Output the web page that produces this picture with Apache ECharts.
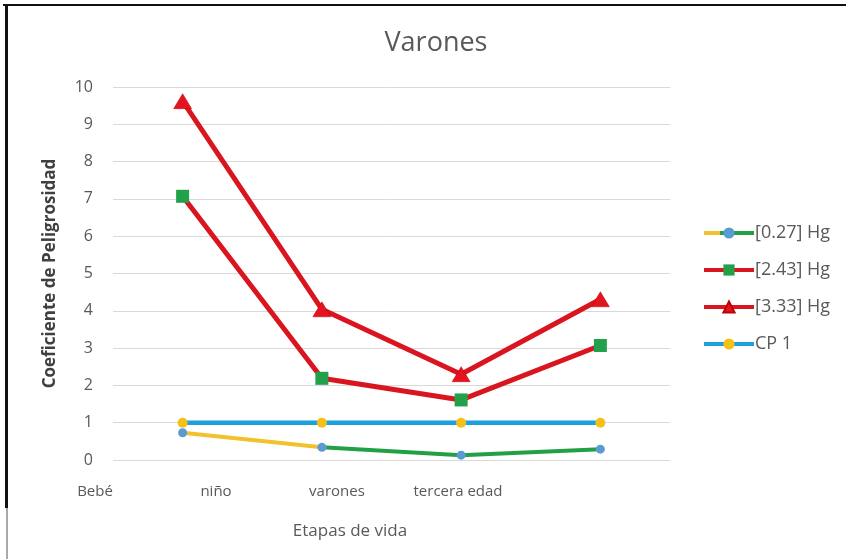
<!DOCTYPE html>
<html>
<head>
<meta charset="utf-8">
<title>Varones</title>
<script src="https://cdn.jsdelivr.net/npm/echarts@6/dist/echarts.min.js"></script>
<style>
  html, body { margin: 0; padding: 0; background: #ffffff; }
  #chart { width: 846px; height: 559px; }
</style>
</head>
<body>
<div id="chart"></div>
<script>
// Life stages along the horizontal axis
var etapas = ['Bebé', 'niño', 'varones', 'tercera edad'];

// Hazard quotient per stage for each mercury concentration
var hg027 = [0.73, 0.34, 0.13, 0.29];
var hg243 = [7.07, 2.19, 1.61, 3.07];
var hg333 = [9.62, 4.04, 2.30, 4.31];
var cp1   = [1, 1, 1, 1];

// Vertical axis ticks
var yTicks = [0, 1, 2, 3, 4, 5, 6, 7, 8, 9, 10];

var seriesNames = ['[0.27] Hg', '[2.43] Hg', '[3.33] Hg', 'CP 1'];

var gray = '#595959';
var red = '#D9161F';
var fontFam = '"Open Sans", Lato, sans-serif';

var chart = echarts.init(document.getElementById('chart'), null, { renderer: 'canvas' });

var option = {
  backgroundColor: '#ffffff',
  animation: false,
  title: [
    {
      text: 'Varones',
      left: 431,
      top: 25,
      textAlign: 'center',
      textStyle: { color: gray, fontSize: 27, fontWeight: 'normal', fontFamily: fontFam }
    },
    {
      text: 'Etapas de vida',
      left: 345,
      top: 518,
      textAlign: 'center',
      textStyle: { color: gray, fontSize: 17, fontWeight: 'normal', fontFamily: fontFam }
    }
  ],
  legend: {
    orient: 'vertical',
    left: 697,
    top: 219,
    itemWidth: 50,
    itemHeight: 14,
    itemGap: 19,
    data: seriesNames,
    lineStyle: { width: 4 },
    textStyle: { color: gray, fontSize: 18, fontFamily: fontFam, padding: [0, 0, 0, -4] }
  },
  grid: [
    { left: 113, right: 176, top: 87, bottom: 99, containLabel: false },
    { left: 34.5, right: 327.5, top: 87, bottom: 99, containLabel: false }
  ],
  xAxis: [
    {
      type: 'category',
      gridIndex: 0,
      data: etapas,
      boundaryGap: true,
      axisLine: { show: false },
      axisTick: { show: false },
      axisLabel: { show: false }
    },
    {
      type: 'category',
      gridIndex: 1,
      data: etapas,
      boundaryGap: true,
      axisLine: { show: false },
      axisTick: { show: false },
      axisLabel: { color: gray, fontSize: 15, fontFamily: fontFam, margin: 24 }
    }
  ],
  yAxis: [
    {
      type: 'value',
      gridIndex: 0,
      min: yTicks[0],
      max: yTicks[yTicks.length - 1],
      interval: 1,
      name: 'Coeficiente de Peligrosidad',
      nameLocation: 'middle',
      nameGap: 54,
      nameTextStyle: { color: '#404040', fontSize: 17, fontWeight: 'bold', fontFamily: fontFam },
      axisLine: { show: false },
      axisTick: { show: false },
      axisLabel: { color: gray, fontSize: 16, fontFamily: fontFam, margin: 20 },
      splitLine: { lineStyle: { color: '#D9D9D9', width: 1 } }
    },
    {
      type: 'value',
      gridIndex: 1,
      show: false,
      min: 0,
      max: 10
    }
  ],
  series: [
    {
      name: seriesNames[0],
      type: 'line',
      xAxisIndex: 0,
      yAxisIndex: 0,
      data: hg027,
      symbol: 'circle',
      symbolSize: 9,
      itemStyle: { color: '#5B9BD5' },
      lineStyle: {
        width: 4,
        color: {
          type: 'linear', x: 0, y: 0, x2: 1, y2: 0,
          colorStops: [
            { offset: 0, color: '#F2C12E' },
            { offset: 0.333, color: '#F2C12E' },
            { offset: 0.334, color: '#21A045' },
            { offset: 1, color: '#21A045' }
          ]
        }
      }
    },
    {
      name: seriesNames[1],
      type: 'line',
      xAxisIndex: 0,
      yAxisIndex: 0,
      data: hg243,
      symbol: 'rect',
      symbolSize: 13,
      itemStyle: { color: '#22A04A' },
      lineStyle: { width: 5, color: red }
    },
    {
      name: seriesNames[2],
      type: 'line',
      xAxisIndex: 0,
      yAxisIndex: 0,
      data: hg333,
      symbol: 'triangle',
      symbolSize: [18, 15],
      itemStyle: { color: '#E3141F', borderColor: '#C00000', borderWidth: 0.5 },
      lineStyle: { width: 5, color: red }
    },
    {
      name: seriesNames[3],
      type: 'line',
      xAxisIndex: 0,
      yAxisIndex: 0,
      data: cp1,
      symbol: 'circle',
      symbolSize: 10,
      itemStyle: { color: '#F5C116' },
      lineStyle: { width: 4.5, color: '#1DA1DB' }
    }
  ],
  graphic: [
    // frame lines around the figure
    { type: 'line', shape: { x1: 3, y1: 5, x2: 846, y2: 5 }, style: { stroke: '#111111', lineWidth: 2 } },
    { type: 'line', shape: { x1: 6.5, y1: 4, x2: 6.5, y2: 508 }, style: { stroke: '#111111', lineWidth: 3 } },
    { type: 'line', shape: { x1: 7, y1: 508, x2: 7, y2: 559 }, style: { stroke: '#555555', lineWidth: 1 } }
  ]
};

chart.setOption(option);
</script>
</body>
</html>
